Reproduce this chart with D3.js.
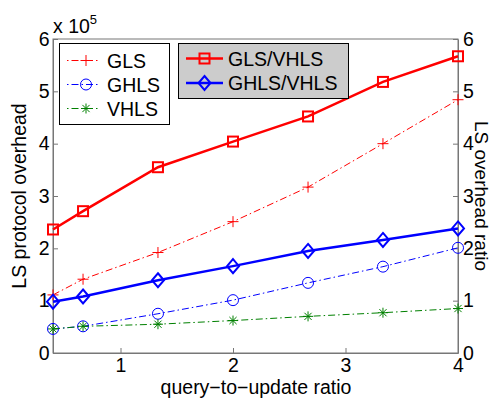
<!DOCTYPE html>
<html><head><meta charset="utf-8">
<script src="https://cdn.jsdelivr.net/npm/d3@7"></script>
<style>body{margin:0;background:#fff}svg{display:block}text{font-family:"Liberation Sans",Arial,sans-serif;}</style>
</head><body>
<svg id="c" width="493" height="398"></svg>
<script>
const xValues = [0.4, 0.667, 1.333, 2, 2.667, 3.333, 4];
const gls  = [1.11, 1.41, 1.92, 2.51, 3.17, 4.00, 4.84];
const ghls = [0.46, 0.51, 0.75, 1.01, 1.34, 1.65, 2.01];
const vhls = [0.46, 0.51, 0.55, 0.62, 0.70, 0.77, 0.85];
const glsRatio  = [2.36, 2.71, 3.55, 4.04, 4.52, 5.18, 5.67];
const ghlsRatio = [0.98, 1.08, 1.39, 1.66, 1.95, 2.16, 2.38];
const xTicks = [1, 2, 3, 4];
const yTicks = [0, 1, 2, 3, 4, 5, 6];

const svg = d3.select("#c");
const L = 53, R = 458, T = 39, B = 353;
const x = d3.scaleLinear().domain([0.4, 4]).range([L, R]);
const yL = d3.scaleLinear().domain([0, 6]).range([B, T]);
const yR = d3.scaleLinear().domain([0, 6]).range([B, T]);
const axisCol = "#777";
const fs = 19.5;

// box
svg.append("rect").attr("x", L).attr("y", T).attr("width", R - L).attr("height", B - T)
  .attr("fill", "none").attr("stroke", axisCol).attr("stroke-width", 1);

// axes
const ax = svg.append("g").attr("transform", `translate(0,${B})`)
  .call(d3.axisBottom(x).tickValues(xTicks).tickFormat(d3.format("d")).tickSizeInner(-5).tickSizeOuter(0).tickPadding(5.5));
const ayl = svg.append("g").attr("transform", `translate(${L},0)`)
  .call(d3.axisLeft(yL).tickValues(yTicks).tickFormat(d3.format("d")).tickSizeInner(-5).tickSizeOuter(0).tickPadding(3.5));
const ayr = svg.append("g").attr("transform", `translate(${R},0)`)
  .call(d3.axisRight(yR).tickValues(yTicks).tickFormat(d3.format("d")).tickSizeInner(-5).tickSizeOuter(0).tickPadding(5));
[ax, ayl, ayr].forEach(g => {
  g.select(".domain").attr("stroke", axisCol);
  g.selectAll(".tick line").attr("stroke", axisCol);
  g.selectAll(".tick text").attr("fill", "#000").attr("font-size", fs)
    .attr("font-family", '"Liberation Sans",Arial,sans-serif');
});

// labels
svg.append("text").attr("x", 256).attr("y", 394).attr("text-anchor", "middle")
  .attr("font-size", fs).text("query\u2212to\u2212update ratio");
svg.append("text").attr("transform", "translate(26,196) rotate(-90)").attr("text-anchor", "middle")
  .attr("font-size", fs).text("LS protocol overhead");
svg.append("text").attr("transform", "translate(475,196) rotate(90)").attr("text-anchor", "middle")
  .attr("font-size", 19).text("LS overhead ratio");
const ex = svg.append("text").attr("x", 53).attr("y", 33).attr("font-size", fs);
ex.append("tspan").text("x 10");
ex.append("tspan").attr("font-size", 13).attr("dy", -9).text("5");

const dashDot = "7,3,1.5,3";
const plotG = svg.append("g");

function marker(g, type, cx, cy, color, sw) {
  if (type === "plus") {
    g.append("path").attr("d", `M${cx-5.5},${cy}H${cx+5.5}M${cx},${cy-5.5}V${cy+5.5}`).attr("stroke", color).attr("stroke-width", 1).attr("fill", "none");
  } else if (type === "circle") {
    g.append("circle").attr("cx", cx).attr("cy", cy).attr("r", 5.5).attr("stroke", color).attr("stroke-width", 1).attr("fill", "none");
  } else if (type === "star") {
    g.append("path").attr("d", `M${cx-5},${cy}H${cx+5}M${cx},${cy-5}V${cy+5}M${cx-3.6},${cy-3.6}L${cx+3.6},${cy+3.6}M${cx-3.6},${cy+3.6}L${cx+3.6},${cy-3.6}`)
      .attr("stroke", color).attr("stroke-width", 1).attr("fill", "none");
  } else if (type === "square") {
    g.append("rect").attr("x", cx - 5).attr("y", cy - 5).attr("width", 10).attr("height", 10).attr("stroke", color).attr("stroke-width", sw).attr("fill", "none");
  } else if (type === "diamond") {
    g.append("path").attr("d", `M${cx},${cy-7}L${cx+6},${cy}L${cx},${cy+7}L${cx-6},${cy}Z`).attr("stroke", color).attr("stroke-width", sw).attr("fill", "none");
  }
}

const series = [
  {name: "GLS", vals: gls, y: yL, color: "#ff0000", m: "plus", w: 1, dash: dashDot},
  {name: "GHLS", vals: ghls, y: yL, color: "#0000ff", m: "circle", w: 1, dash: dashDot},
  {name: "VHLS", vals: vhls, y: yL, color: "#008000", m: "star", w: 1, dash: dashDot},
  {name: "GLS/VHLS", vals: glsRatio, y: yR, color: "#ff0000", m: "square", w: 2.5, dash: null},
  {name: "GHLS/VHLS", vals: ghlsRatio, y: yR, color: "#0000ff", m: "diamond", w: 2.5, dash: null},
];
series.forEach(s => {
  const line = d3.line().x((d, i) => x(xValues[i])).y(d => s.y(d));
  plotG.append("path").attr("d", line(s.vals)).attr("fill", "none").attr("stroke", s.color)
    .attr("stroke-width", s.w).attr("stroke-dasharray", s.dash);
  s.vals.forEach((v, i) => marker(plotG, s.m, x(xValues[i]), s.y(v), s.color, s.w === 1 ? 1 : 2));
});

// legend 1
const lg1 = svg.append("g");
lg1.append("rect").attr("x", 59.5).attr("y", 43.5).attr("width", 110).attr("height", 81).attr("fill", "#fff").attr("stroke", "#000");
series.slice(0, 3).forEach((s, i) => {
  const cy = 60.5 + i * 24;
  lg1.append("line").attr("x1", 67).attr("x2", 99).attr("y1", cy).attr("y2", cy).attr("stroke", s.color).attr("stroke-width", 1).attr("stroke-dasharray", "1.5,3,7,3");
  marker(lg1, s.m, 86, cy, s.color, 1);
  lg1.append("text").attr("x", 107).attr("y", cy + 7).attr("font-size", fs).text(s.name);
});
// legend 2
const lg2 = svg.append("g");
lg2.append("rect").attr("x", 178.5).attr("y", 43.5).attr("width", 170).attr("height", 55).attr("fill", "#cccccc").attr("stroke", "#000");
series.slice(3).forEach((s, i) => {
  const cy = 58.5 + i * 24.5;
  lg2.append("line").attr("x1", 186).attr("x2", 223).attr("y1", cy).attr("y2", cy).attr("stroke", s.color).attr("stroke-width", 2.5);
  marker(lg2, s.m, 204.5, cy, s.color, 2);
  lg2.append("text").attr("x", 228).attr("y", cy + 7).attr("font-size", fs).text(s.name);
});
</script>
</body></html>
